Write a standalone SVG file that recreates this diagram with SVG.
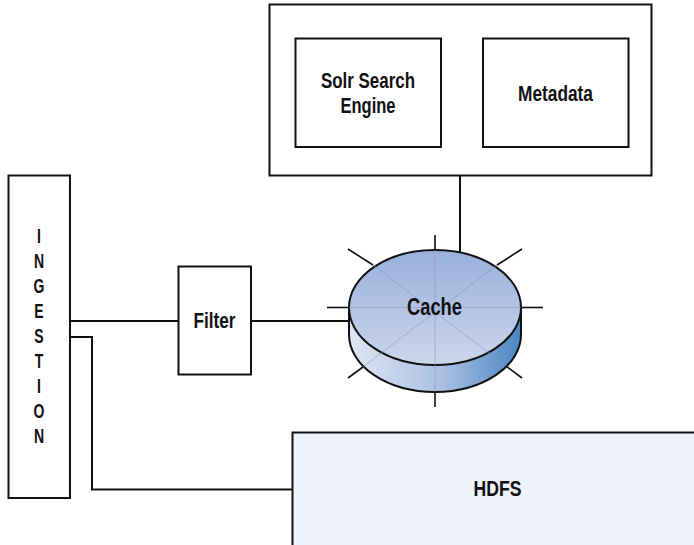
<svg xmlns="http://www.w3.org/2000/svg" width="694" height="545" viewBox="0 0 694 545">
<defs>
<style>
.box{fill:#ffffff;stroke:#111;stroke-width:2}
.ln{fill:none;stroke:#111;stroke-width:2}
.tick{stroke:#111;stroke-width:1.6}
.faint{stroke:#8a98b8;stroke-width:0.8;opacity:0.7}
text{font-family:"Liberation Sans",Arial,sans-serif;font-weight:bold;fill:#111;text-anchor:middle}
.lbl{font-size:21.5px}
.ing{font-size:20px}
</style>
<linearGradient id="topG" x1="0" y1="0" x2="0" y2="1">
<stop offset="0" stop-color="#98b0dc"/>
<stop offset="1" stop-color="#cdd6ec"/>
</linearGradient>
<linearGradient id="sideG" x1="0" y1="0" x2="1" y2="0">
<stop offset="0" stop-color="#dfe6f4"/>
<stop offset="0.55" stop-color="#a9bfe2"/>
<stop offset="1" stop-color="#4a86c4"/>
</linearGradient>
</defs>
<rect width="694" height="545" fill="#ffffff"/>

<g id="connectors">
<line class="ln" x1="441" y1="93" x2="483" y2="93"/>
<line class="ln" x1="460" y1="175.5" x2="460" y2="253"/>
<line class="ln" x1="70" y1="321" x2="178" y2="321"/>
<line class="ln" x1="251" y1="321" x2="349" y2="321"/>
<polyline class="ln" points="70,337 92,337 92,489.5 292,489.5"/>
</g>

<g id="search-cluster">
<rect class="box" x="269.5" y="4.5" width="382" height="171"/>
</g>
<g id="solr">
<rect class="box" x="295.5" y="38.5" width="145.5" height="108.5"/>
<text class="lbl" x="368" y="87.5" textLength="94" lengthAdjust="spacingAndGlyphs">Solr Search</text>
<text class="lbl" x="368" y="113" textLength="55" lengthAdjust="spacingAndGlyphs">Engine</text>
</g>
<g id="metadata">
<rect class="box" x="483" y="38.5" width="145.5" height="108.5"/>
<text class="lbl" x="555.5" y="100.5" textLength="75" lengthAdjust="spacingAndGlyphs">Metadata</text>
</g>

<g id="ingestion">
<rect class="box" x="8.5" y="175.5" width="61.5" height="322.5"/>
<g transform="translate(39,0) scale(0.7,1)">
<text class="ing" x="0" y="243">I</text>
<text class="ing" x="0" y="268">N</text>
<text class="ing" x="0" y="293">G</text>
<text class="ing" x="0" y="318">E</text>
<text class="ing" x="0" y="343">S</text>
<text class="ing" x="0" y="368">T</text>
<text class="ing" x="0" y="393">I</text>
<text class="ing" x="0" y="418">O</text>
<text class="ing" x="0" y="443">N</text>
</g>
</g>

<g id="filter">
<rect class="box" x="178.5" y="266.5" width="72.5" height="108"/>
<text class="lbl" x="214.5" y="328" textLength="42" lengthAdjust="spacingAndGlyphs">Filter</text>
</g>

<g id="cache">
<line class="tick" x1="435" y1="235" x2="435" y2="250"/>
<line class="tick" x1="435" y1="392" x2="435" y2="407"/>
<line class="tick" x1="327" y1="307.5" x2="349" y2="307.5"/>
<line class="tick" x1="521" y1="307.5" x2="543" y2="307.5"/>
<line class="tick" x1="348" y1="249" x2="373" y2="265"/>
<line class="tick" x1="522" y1="249" x2="497" y2="265"/>
<line class="tick" x1="348" y1="378" x2="363" y2="367"/>
<line class="tick" x1="522" y1="378" x2="506" y2="366"/>
<path d="M349,307.5 L349,334.5 A86,57.5 0 0 0 521,334.5 L521,307.5 Z" fill="url(#sideG)" stroke="#111" stroke-width="2"/>
<ellipse cx="435" cy="307.5" rx="86" ry="57.5" fill="url(#topG)" stroke="#111" stroke-width="2"/>
<line class="faint" x1="435" y1="250" x2="435" y2="392"/>
<line class="faint" x1="349" y1="307.5" x2="521" y2="307.5"/>
<line class="faint" x1="373" y1="265" x2="506" y2="366"/>
<line class="faint" x1="497" y1="265" x2="363" y2="367"/>
<text x="434.5" y="314.5" style="font-size:23px" textLength="55" lengthAdjust="spacingAndGlyphs">Cache</text>
</g>

<g id="hdfs">
<rect x="292.5" y="432.5" width="410" height="120" fill="#eef2fa" stroke="#111" stroke-width="2"/>
<text class="lbl" x="497.5" y="495.5" textLength="48" lengthAdjust="spacingAndGlyphs">HDFS</text>
</g>
</svg>
